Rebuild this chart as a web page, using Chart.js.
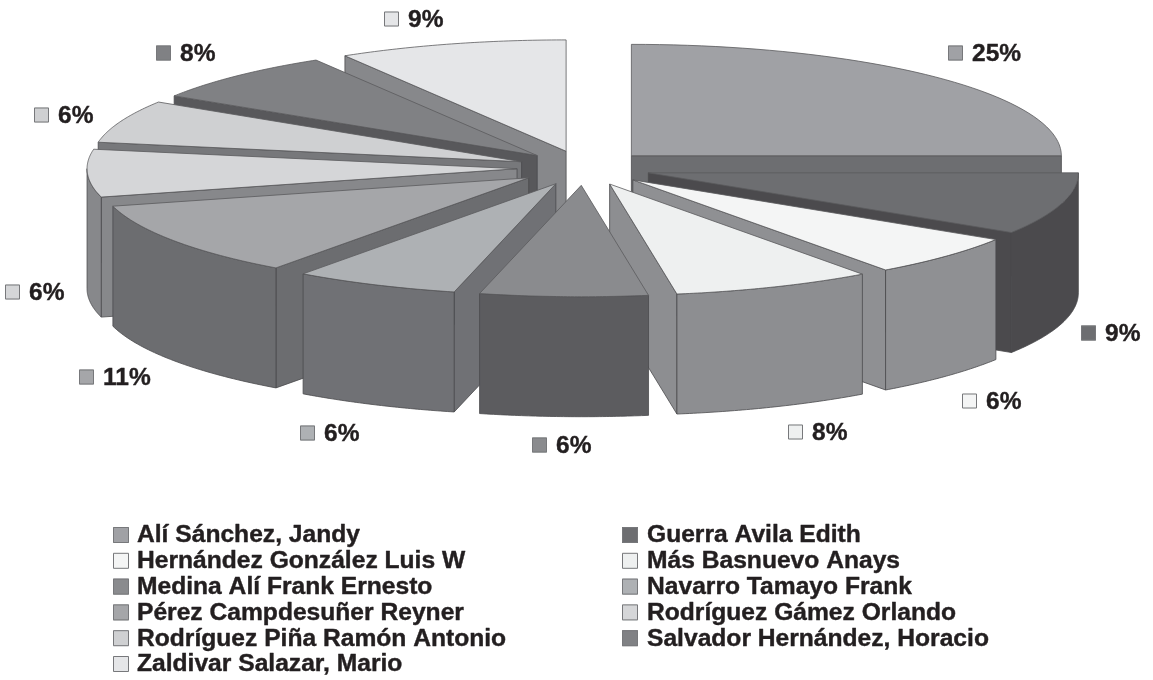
<!DOCTYPE html>
<html><head><meta charset="utf-8">
<style>html,body{margin:0;padding:0;background:#fff}#w{width:1153px;height:680px;position:relative}canvas{display:block;filter:blur(0.4px)}</style>
<script src="https://cdn.jsdelivr.net/npm/chart.js@4"></script>
</head><body><div id="w"><canvas id="c"></canvas></div>
<script>
const names = ["Alí Sánchez, Jandy","Guerra Avila Edith","Hernández González Luis W","Más Basnuevo Anays","Medina Alí Frank Ernesto","Navarro Tamayo Frank","Pérez Campdesuñer Reyner","Rodríguez Gámez Orlando","Rodríguez Piña Ramón Antonio","Salvador Hernández, Horacio","Zaldivar Salazar, Mario"];
const percentLabels = [25,9,6,8,6,6,11,6,6,8,9];
const shares = [25,9,6,7.5,6.3,6.2,10.9,6.9,6.2,7.4,8.6];
const topColors = ["#a0a1a5","#6d6e71","#f4f5f5","#eef0f0","#8a8b8e","#aeb1b4","#a5a6a9","#d5d6d8","#cfd0d2","#808184","#e5e6e8"];
const wallColors = ["#6d6e71","#4b4a4d","#8f9093","#8d8e91","#5c5c5f","#707175","#6c6d70","#87888b","#77787b","#58585b","#87888b"];
const labelSpots = [[948,53],[1081,333],[962,401],[788,432],[532,445],[300,433],[79,377],[5,292],[34,115],[156,53],[384,19]];
const SQUASH=0.259, EXPLODE=67, DEPTH=120;
const LEGEND_FONT='bold 23px "Liberation Sans", Arial, sans-serif';
const PERCENT_FONT='bold 24.5px "Liberation Sans", Arial, sans-serif';
const pie3d={id:'pie3d',
 beforeDatasetsDraw(chart){
  const ctx=chart.ctx, arcs=chart.getDatasetMeta(0).data;
  const geo=arcs.map((a,i)=>{
    const {x,y,startAngle:s,endAngle:e,outerRadius:r}=a.getProps(['x','y','startAngle','endAngle','outerRadius'],true);
    const m=(s+e)/2;
    return {a,i,s,e,r,m,cx:x,cy:y,
      ax:x+Math.cos(m)*EXPLODE, ay:y+Math.sin(m)*EXPLODE*SQUASH};
  });
  const pt=(g,t)=>[g.ax+g.r*Math.cos(t), g.ay+g.r*Math.sin(t)*SQUASH];
  const poly=(pts,fill)=>{ctx.beginPath();pts.forEach((p,j)=>j?ctx.lineTo(p[0],p[1]):ctx.moveTo(p[0],p[1]));ctx.closePath();ctx.fillStyle=fill;ctx.fill();ctx.strokeStyle='#4a4a4d';ctx.lineWidth=0.8;ctx.lineJoin='round';ctx.stroke();};
  const face=(g,t)=>{const p=pt(g,t);poly([[g.ax,g.ay],p,[p[0],p[1]+DEPTH],[g.ax,g.ay+DEPTH]],wallColors[g.i]);};
  [...geo].sort((u,v)=>Math.sin(u.m)-Math.sin(v.m)).forEach(g=>{
    if(Math.sin(g.s-Math.PI/2)>0) face(g,g.s);
    if(Math.sin(g.e+Math.PI/2)>0) face(g,g.e);
    const t0=Math.max(g.s,0), t1=Math.min(g.e,Math.PI);
    if(t1>t0){
      const up=[],dn=[];
      for(let j=0;j<=48;j++){const p=pt(g,t0+(t1-t0)*j/48);up.push(p);dn.unshift([p[0],p[1]+DEPTH]);}
      poly(up.concat(dn),wallColors[g.i]);
    }
  });
  geo.forEach(g=>{
    ctx.save();
    ctx.translate(g.ax,g.ay);ctx.scale(1,SQUASH);ctx.translate(-g.cx,-g.cy);
    g.a.draw(ctx);
    ctx.restore();
    ctx.save();
    ctx.beginPath();ctx.moveTo(g.ax,g.ay);
    for(let j=0;j<=48;j++){const p=pt(g,g.s+(g.e-g.s)*j/48);ctx.lineTo(p[0],p[1]);}
    ctx.closePath();ctx.strokeStyle='#5a5a5d';ctx.lineWidth=0.8;ctx.lineJoin='round';ctx.stroke();
    ctx.restore();
  });
  return false;
 },
 afterDraw(chart){
  const ctx=chart.ctx;ctx.save();
  ctx.textBaseline='middle';ctx.textAlign='left';
  const sq=(x,y,s,c)=>{ctx.fillStyle=c;ctx.fillRect(x,y-s/2,s,s);ctx.strokeStyle='#77787b';ctx.lineWidth=1;ctx.strokeRect(x+.5,y-s/2+.5,s-1,s-1);};
  const txt=(s,x,y,font,stretch)=>{ctx.save();ctx.font=font;ctx.translate(x,y);ctx.scale(stretch,1);ctx.fillStyle='#231f20';ctx.strokeStyle='#231f20';ctx.lineWidth=0.4;ctx.fillText(s,0,0);ctx.strokeText(s,0,0);ctx.restore();};
  percentLabels.forEach((v,i)=>{
    const [x,y]=labelSpots[i];
    sq(x,y,15,topColors[i]);
    txt(v+'%',x+24,y+1,PERCENT_FONT,1);
  });
  names.forEach((n,i)=>{
    const col=i%2, row=(i-col)/2, y=535+25.8*row, x=col?622:113;
    sq(x,y,16,topColors[i]);
    txt(n,x+(col?25:24),y+1,LEGEND_FONT,1.07);
  });
  ctx.restore();
 }};
new Chart(document.getElementById('c'),{
 type:'pie',
 data:{labels:names,datasets:[{data:shares,backgroundColor:topColors,borderWidth:0,clip:false}]},
 options:{responsive:true,maintainAspectRatio:false,animation:false,radius:430,
  layout:{padding:{left:15,bottom:344}},
  plugins:{legend:{display:false},tooltip:{enabled:false}}},
 plugins:[pie3d]
});
</script></body></html>
